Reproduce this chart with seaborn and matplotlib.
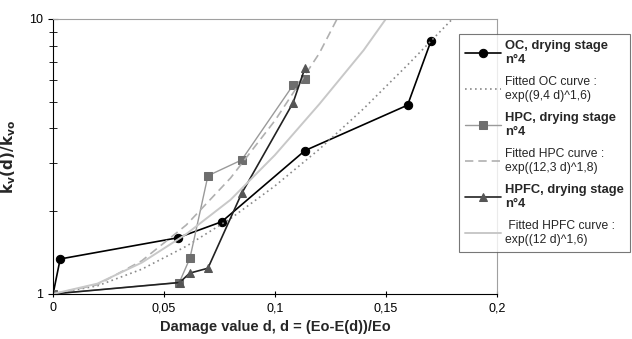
import matplotlib
matplotlib.use("Agg")
import matplotlib.pyplot as plt
import matplotlib.ticker as mticker
import seaborn as sns
import pandas as pd

oc_d = [0, 0.0032, 0.0562, 0.076, 0.1135, 0.1598, 0.1704]
oc_k = [1, 1.34, 1.60, 1.83, 3.32, 4.86, 8.34]
hpc_d = [0, 0.0569, 0.0617, 0.0698, 0.085, 0.1082, 0.1135]
hpc_k = [1, 1.10, 1.35, 2.69, 3.07, 5.75, 6.07]
hpfc_d = [0, 0.057, 0.0616, 0.0698, 0.085, 0.1082, 0.1135]
hpfc_k = [1, 1.10, 1.19, 1.24, 2.32, 4.96, 6.62]

# fitted curves
oc_fit_d = [0, 0.02, 0.04, 0.06, 0.08, 0.10, 0.12, 0.14, 0.16, 0.18]
oc_fit_k = [1, 1.07, 1.23, 1.49, 1.88, 2.47, 3.36, 4.72, 6.83, 10.0]
hpc_fit_d = [0, 0.02, 0.04, 0.06, 0.08, 0.10, 0.12, 0.128]
hpc_fit_k = [1, 1.08, 1.32, 1.78, 2.64, 4.27, 7.5, 10.0]
hpfc_fit_d = [0, 0.02, 0.04, 0.06, 0.08, 0.10, 0.12, 0.14, 0.15]
hpfc_fit_k = [1, 1.09, 1.30, 1.65, 2.20, 3.20, 4.90, 7.70, 10.0]

x_ticks = [0, 0.05, 0.1, 0.15, 0.2]
x_labels = ["0", "0,05", "0,1", "0,15", "0,2"]

labels = ["OC, drying stage\nn°4",
          "Fitted OC curve :\nexp((9,4 d)^1,6)",
          "HPC, drying stage\nn°4",
          "Fitted HPC curve :\nexp((12,3 d)^1,8)",
          "HPFC, drying stage\nn°4",
          " Fitted HPFC curve :\nexp((12 d)^1,6)"]

sns.set_style("ticks")
plt.rcParams['font.family'] = ['Liberation Sans', 'DejaVu Sans']

fig = plt.figure(figsize=(6.32, 3.39), dpi=100)
ax = fig.add_axes([0.084, 0.133, 0.702, 0.811])

sns.lineplot(x=oc_d, y=oc_k, ax=ax, color='black', lw=1.2, marker='o',
             markersize=6, markeredgecolor='black', label=labels[0])
sns.lineplot(x=oc_fit_d, y=oc_fit_k, ax=ax, color='#8a8a8a', lw=1.2,
             linestyle=(0, (1, 2)), label=labels[1])
sns.lineplot(x=hpc_d, y=hpc_k, ax=ax, color='#9a9a9a', lw=1.0, marker='s',
             markersize=6, markerfacecolor='#6e6e6e', markeredgecolor='#6e6e6e',
             label=labels[2])
sns.lineplot(x=hpc_fit_d, y=hpc_fit_k, ax=ax, color='#b0b0b0', lw=1.2,
             linestyle=(0, (5, 3)), label=labels[3])
sns.lineplot(x=hpfc_d, y=hpfc_k, ax=ax, color='#222222', lw=1.2, marker='^',
             markersize=6, markerfacecolor='#555555', markeredgecolor='#555555',
             label=labels[4])
sns.lineplot(x=hpfc_fit_d, y=hpfc_fit_k, ax=ax, color='#c8c8c8', lw=1.4,
             label=labels[5])

ax.set_yscale('log')
ax.set_xlim(0, 0.2)
ax.set_ylim(1, 10)
ax.set_xticks(x_ticks)
ax.set_xticklabels(x_labels)
ax.yaxis.set_major_locator(mticker.FixedLocator([1, 10]))
ax.yaxis.set_major_formatter(mticker.FixedFormatter(["1", "10"]))
ax.yaxis.set_minor_locator(mticker.FixedLocator([2, 3, 4, 5, 6, 7, 8, 9]))
ax.yaxis.set_minor_formatter(mticker.NullFormatter())
ax.tick_params(axis='both', which='both', direction='inout', labelsize=9,
               colors='black')
ax.tick_params(axis='y', which='major', length=7)
ax.tick_params(axis='y', which='minor', length=6)
ax.tick_params(axis='x', which='major', length=5)

for s in ['top', 'right']:
    ax.spines[s].set_color('#a0a0a0')
for s in ['left', 'bottom']:
    ax.spines[s].set_color('black')

ax.set_xlabel("Damage value d, d = (Eo-E(d))/Eo", fontsize=10.5,
              fontweight='bold', labelpad=4)
ax.set_ylabel(r"$\mathbf{k_v(d)/k_{vo}}$", fontsize=11, labelpad=8)

handles, labs = ax.get_legend_handles_labels()
ax.get_legend().remove()
leg = fig.legend(handles, labs, loc='upper left', bbox_to_anchor=(0.726, 0.9),
                 fontsize=8.7, frameon=True, fancybox=False, handlelength=3.0,
                 borderpad=0.5, labelspacing=0.85, handletextpad=0.3,
                 borderaxespad=0)
leg.get_frame().set_edgecolor('#555555')
leg.get_frame().set_linewidth(0.8)
for i, t in enumerate(leg.get_texts()):
    if i % 2 == 0:
        t.set_fontweight('bold')
        t.set_fontsize(9.3)

fig.savefig("out.png", dpi=100)
